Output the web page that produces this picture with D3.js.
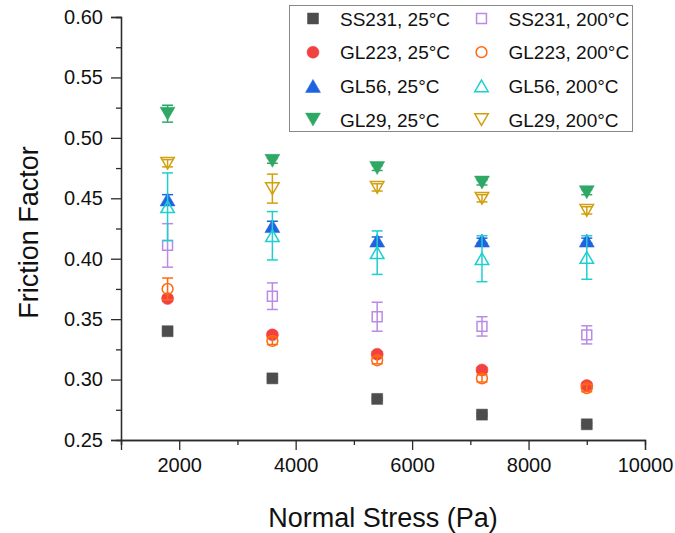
<!DOCTYPE html>
<html>
<head>
<meta charset="utf-8">
<script src="https://cdn.jsdelivr.net/npm/d3@7"></script>
<style>
  body { margin: 0; background: #fff; }
  svg { display: block; font-family: "Liberation Sans", Arial, sans-serif; }
</style>
</head>
<body>
<div id="chart"></div>
<script>
// normal stress values (Pa)
var stress = [1800, 3600, 5400, 7200, 9000]

var ss231_25 = [0.340, 0.301, 0.284, 0.271, 0.263]
var gl223_25 = [0.367, 0.337, 0.321, 0.308, 0.295]
var gl56_25 = [0.449, 0.427, 0.415, 0.415, 0.415]
var gl29_25 = [0.520, 0.481, 0.475, 0.463, 0.455]
var ss231_200 = [0.411, 0.369, 0.352, 0.344, 0.337]
var gl223_200 = [0.375, 0.332, 0.316, 0.301, 0.293]
var gl56_200 = [0.443, 0.419, 0.405, 0.400, 0.401]
var gl29_200 = [0.479, 0.458, 0.459, 0.450, 0.440]

var ss231_25_err = [0.001, 0.001, 0.001, 0.001, 0.001]
var gl223_25_err = [0.002, 0.002, 0.002, 0.002, 0.002]
var gl56_25_err = [0.004, 0.004, 0.003, 0.002, 0.002]
var gl29_25_err = [0.007, 0.002, 0.002, 0.002, 0.002]
var ss231_200_err = [0.018, 0.011, 0.012, 0.008, 0.0075]
var gl223_200_err = [0.009, 0.003, 0.003, 0.003, 0.003]
var gl56_200_err = [0.028, 0.020, 0.018, 0.019, 0.018]
var gl29_200_err = [0.003, 0.012, 0.003, 0.003, 0.003]

var xTicks = [2000, 4000, 6000, 8000, 10000]
var yTicks = [0.25, 0.30, 0.35, 0.40, 0.45, 0.50, 0.55, 0.60]

var series = [
  { name: "SS231, 25°C", y: ss231_25, err: ss231_25_err, shape: "square", fill: true, color: "#4d4d4d" },
  { name: "GL223, 25°C", y: gl223_25, err: gl223_25_err, shape: "circle", fill: true, color: "#f24141" },
  { name: "GL56, 25°C", y: gl56_25, err: gl56_25_err, shape: "up", fill: true, color: "#1f63e0" },
  { name: "GL29, 25°C", y: gl29_25, err: gl29_25_err, shape: "down", fill: true, color: "#2fa866" },
  { name: "SS231, 200°C", y: ss231_200, err: ss231_200_err, shape: "square", fill: false, color: "#b98be6" },
  { name: "GL223, 200°C", y: gl223_200, err: gl223_200_err, shape: "circle", fill: false, color: "#ff6a10" },
  { name: "GL56, 200°C", y: gl56_200, err: gl56_200_err, shape: "up", fill: false, color: "#1fcfcf" },
  { name: "GL29, 200°C", y: gl29_200, err: gl29_200_err, shape: "down", fill: false, color: "#d19f0f" }
]

var width = 675, height = 533
var margin = { left: 121, right: 30, top: 17, bottom: 93 }

var svg = d3.select("#chart").append("svg")
  .attr("width", width)
  .attr("height", height)

var x = d3.scaleLinear().domain([1000, 10000]).range([margin.left, width - margin.right])
var y = d3.scaleLinear().domain([0.25, 0.60]).range([height - margin.bottom, margin.top])

function markerPath(shape, filled) {
  var s = filled ? 1 : 0.9
  if (shape == "square") {
    var a = 5.5 * s
    return "M" + -a + "," + -a + "H" + a + "V" + a + "H" + -a + "Z"
  }
  if (shape == "circle") {
    var r = 6 * s
    return "M" + r + ",0A" + r + "," + r + " 0 1,1 " + -r + ",0A" + r + "," + r + " 0 1,1 " + r + ",0Z"
  }
  var w = 7.5 * s, h = 6.5 * s
  if (shape == "up") return "M0," + -h + "L" + w + "," + h + "L" + -w + "," + h + "Z"
  return "M0," + h + "L" + w + "," + -h + "L" + -w + "," + -h + "Z"
}

/* ------- AXES -------*/
var axisColor = "#2b2b2b"

var xAxis = svg.append("g")
  .attr("transform", "translate(0," + y(0.25) + ")")
  .call(d3.axisBottom(x).tickValues(xTicks).tickSize(10).tickPadding(8).tickFormat(d3.format("d")))
svg.append("g")
  .attr("transform", "translate(0," + y(0.25) + ")")
  .call(d3.axisBottom(x).tickValues(d3.range(1000, 10001, 2000)).tickSize(5).tickFormat(""))

var yAxis = svg.append("g")
  .attr("transform", "translate(" + x(1000) + ",0)")
  .call(d3.axisLeft(y).tickValues(yTicks).tickSize(10).tickPadding(8).tickFormat(d3.format(".2f")))
svg.append("g")
  .attr("transform", "translate(" + x(1000) + ",0)")
  .call(d3.axisLeft(y).tickValues(d3.range(0.275, 0.6, 0.05)).tickSize(5).tickFormat(""))

svg.selectAll(".domain").attr("stroke", axisColor).attr("stroke-width", 1.3)
svg.selectAll(".tick line").attr("stroke", axisColor).attr("stroke-width", 1.3)
svg.selectAll(".tick text").attr("font-size", 20).attr("fill", "#111")
  .attr("font-family", "'Liberation Sans', Arial, sans-serif")

svg.append("text")
  .attr("x", (x(1000) + x(10000)) / 2)
  .attr("y", 527)
  .attr("text-anchor", "middle")
  .attr("font-size", 27)
  .attr("fill", "#111")
  .text("Normal Stress (Pa)")

svg.append("text")
  .attr("transform", "translate(38," + (y(0.425) + 4) + ") rotate(-90)")
  .attr("text-anchor", "middle")
  .attr("font-size", 27)
  .attr("fill", "#111")
  .text("Friction Factor")

/* ------- POINTS WITH ERROR BARS -------*/
var cap = 5.5
series.forEach(function(s) {
  var g = svg.append("g")
  var pts = stress.map(function(v, i) { return { x: v, y: s.y[i], e: s.err[i] } })

  var eb = g.selectAll("g.err").data(pts).enter().append("g")
    .attr("stroke", s.color).attr("stroke-width", 1.5).attr("fill", "none")
  eb.append("line")
    .attr("x1", function(d) { return x(d.x) }).attr("x2", function(d) { return x(d.x) })
    .attr("y1", function(d) { return y(d.y - d.e) }).attr("y2", function(d) { return y(d.y + d.e) })
  eb.append("line")
    .attr("x1", function(d) { return x(d.x) - cap }).attr("x2", function(d) { return x(d.x) + cap })
    .attr("y1", function(d) { return y(d.y + d.e) }).attr("y2", function(d) { return y(d.y + d.e) })
  eb.append("line")
    .attr("x1", function(d) { return x(d.x) - cap }).attr("x2", function(d) { return x(d.x) + cap })
    .attr("y1", function(d) { return y(d.y - d.e) }).attr("y2", function(d) { return y(d.y - d.e) })

  g.selectAll("path.pt").data(pts).enter().append("path")
    .attr("class", "pt")
    .attr("transform", function(d) { return "translate(" + x(d.x) + "," + y(d.y) + ")" })
    .attr("d", markerPath(s.shape, s.fill))
    .attr("fill", s.fill ? s.color : "none")
    .attr("stroke", s.color)
    .attr("stroke-width", s.fill ? 0.5 : 1.5)
})

/* ------- LEGEND -------*/
var legend = svg.append("g")
legend.append("rect")
  .attr("x", 289.5).attr("y", 5.5)
  .attr("width", 343).attr("height", 126)
  .attr("fill", "#fff")
  .attr("stroke", "#888")
  .attr("stroke-width", 1)

var item = legend.selectAll("g.item").data(series).enter().append("g")
  .attr("transform", function(d, i) {
    var col = i < 4 ? 0 : 1
    var row = i % 4
    return "translate(" + (313 + col * 168.5) + "," + (18.5 + row * 33.7) + ")"
  })
item.append("path")
  .attr("d", function(d) { return markerPath(d.shape, d.fill) })
  .attr("fill", function(d) { return d.fill ? d.color : "none" })
  .attr("stroke", function(d) { return d.color })
  .attr("stroke-width", function(d) { return d.fill ? 0.5 : 1.5 })
item.append("text")
  .attr("x", 27)
  .attr("y", 7)
  .attr("font-size", 19)
  .attr("fill", "#111")
  .text(function(d) { return d.name })
</script>
</body>
</html>
